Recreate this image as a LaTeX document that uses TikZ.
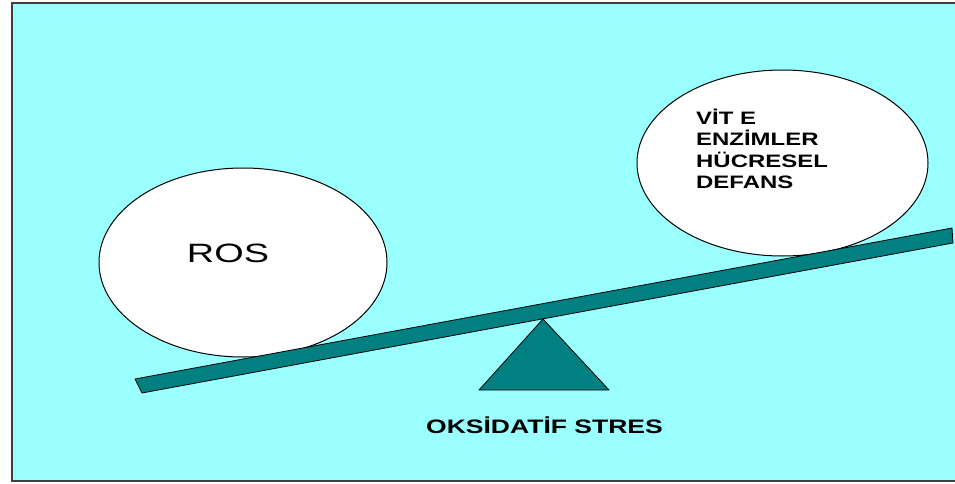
\documentclass[tikz,border=0pt]{standalone}
\usepackage{fontspec}
\setmainfont{Liberation Sans}
\newfontfamily\rosfont[FakeStretch=1.43]{Liberation Sans}
\newfontfamily\defansfont[FakeStretch=1.33]{Liberation Sans Bold}
\newfontfamily\stresfont[FakeStretch=1.36]{Liberation Sans Bold}
\usetikzlibrary{shapes.geometric}
\definecolor{bgcyan}{HTML}{99FFFF}
\definecolor{beamteal}{HTML}{008080}
\definecolor{framegray}{HTML}{404040}
\tikzset{
    pan/.style={ellipse, draw=black, fill=white, line width=1pt, inner sep=0pt},
    tealpart/.style={draw=black, fill=beamteal, line width=0.8pt, line join=round},
}

\begin{document}
\begin{tikzpicture}[x=1pt,y=-1pt]
    \useasboundingbox (0,0) rectangle (955,484);
    % background and frame
    \fill[bgcyan] (12,3) rectangle (960,481);
    \draw[framegray, line width=2pt] (960,3) -- (12,3) -- (12,481) -- (960,481);

    % the two pans
    \node[pan, minimum width=288pt, minimum height=189pt] (ros) at (243,262.5) {};
    \node[pan, minimum width=291pt, minimum height=186pt] (defans) at (782.5,163) {};

    % beam and fulcrum
    \coordinate (beam nw) at (135,379);
    \coordinate (beam ne) at (952,228);
    \coordinate (beam se) at (953,243);
    \coordinate (beam sw) at (142,393);
    \draw[tealpart] (beam nw) -- (beam ne) -- (beam se) -- (beam sw) -- cycle;
    \coordinate (apex) at (543,319);
    \draw[tealpart] (apex) -- (609,390) -- (479,390) -- cycle;

    % labels
    \node[font=\rosfont\fontsize{26.5}{30}\selectfont, inner sep=0pt] (ros label) at (228,253.5) {ROS};
    \node[font=\defansfont\fontsize{18}{21.3}\selectfont, align=left, anchor=north west, inner sep=0pt] (defans label) at (696,109) {VİT E\\ENZİMLER\\HÜCRESEL\\DEFANS};
    \node[font=\stresfont\fontsize{19.5}{22}\selectfont, anchor=base, inner sep=0pt] (stres label) at (544.5,433) {OKSİDATİF STRES};
\end{tikzpicture}
\end{document}
